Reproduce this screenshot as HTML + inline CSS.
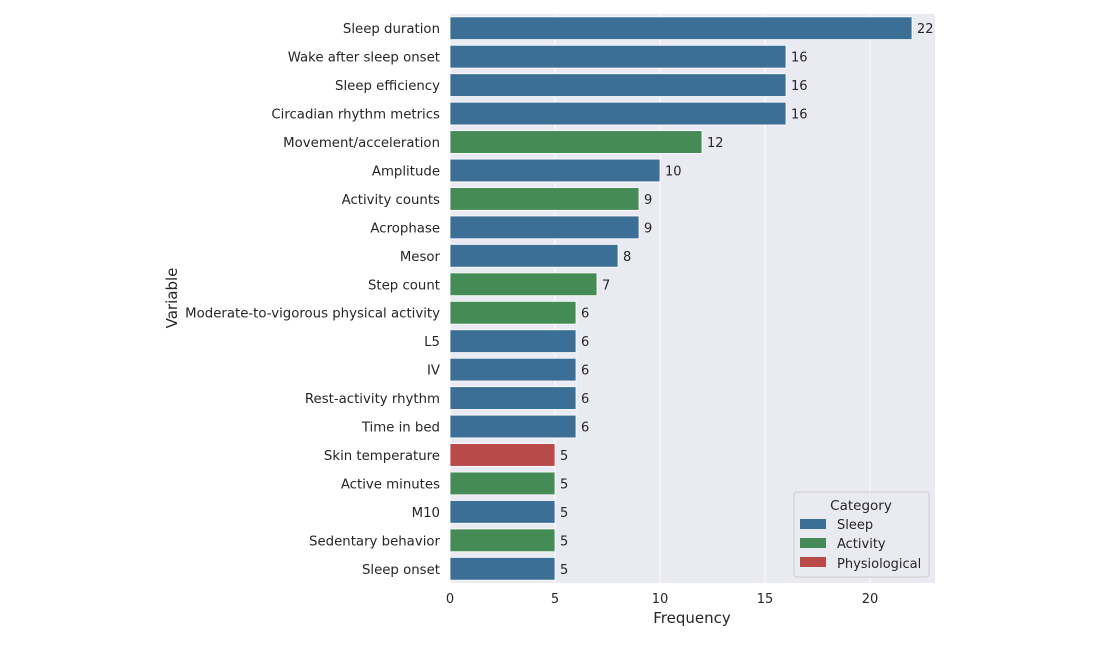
<!DOCTYPE html>
<html><head><meta charset="utf-8"><style>
body{margin:0;background:#fff;}
svg text{font-family:"DejaVu Sans","Liberation Sans",sans-serif;fill:#262626;}
</style></head><body>
<svg id="chart" width="1100" height="640" viewBox="0 0 1100 640" xmlns="http://www.w3.org/2000/svg">
<rect x="450" y="14" width="485" height="569" fill="#eaeaf2"/>
<g id="grid"></g><g id="bars"></g><g id="ylabels"></g><g id="xticks"></g>
<text x="692" y="623" font-size="15" text-anchor="middle">Frequency</text>
<text x="0" y="0" font-size="15" text-anchor="middle" transform="translate(177,298) rotate(-90)">Variable</text>
<g>
<rect x="794" y="492" width="135" height="85" rx="3" fill="#eaeaf2" stroke="#cccccc" fill-opacity="0.8"/>
<text x="861" y="510" font-size="13.5" text-anchor="middle">Category</text>
<rect x="800" y="519" width="26" height="10" fill="#3b6f95"/>
<text x="837" y="529" font-size="13">Sleep</text>
<rect x="800" y="538" width="26" height="10" fill="#458b55"/>
<text x="837" y="548" font-size="13">Activity</text>
<rect x="800" y="557" width="26" height="10" fill="#b84b4a"/>
<text x="837" y="568" font-size="13">Physiological</text>
</g>
</svg>
<script>
const categories=["Sleep duration","Wake after sleep onset","Sleep efficiency","Circadian rhythm metrics","Movement/acceleration","Amplitude","Activity counts","Acrophase","Mesor","Step count","Moderate-to-vigorous physical activity","L5","IV","Rest-activity rhythm","Time in bed","Skin temperature","Active minutes","M10","Sedentary behavior","Sleep onset"];
const values=[22,16,16,16,12,10,9,9,8,7,6,6,6,6,6,5,5,5,5,5];
const groups=["Sleep","Sleep","Sleep","Sleep","Activity","Sleep","Activity","Sleep","Sleep","Activity","Activity","Sleep","Sleep","Sleep","Sleep","Physiological","Activity","Sleep","Activity","Sleep"];
const xTicks=[0,5,10,15,20];
const colors={Sleep:"#3b6f95",Activity:"#458b55",Physiological:"#b84b4a"};
const NS="http://www.w3.org/2000/svg";
const x0=450,pxPer=21,plotTop=14,band=569/categories.length;
const xs=v=>x0+v*pxPer;
const yc=i=>plotTop+band*(i+0.5);
function mk(tag,attrs,parent){const e=document.createElementNS(NS,tag);for(const k in attrs)e.setAttribute(k,attrs[k]);document.getElementById(parent).appendChild(e);return e;}
xTicks.forEach(t=>{
  const l=mk("line",{x1:xs(t),x2:xs(t),y1:14,y2:583,stroke:"#fff","stroke-width":1},"grid");
  
  
  const tx=mk("text",{x:xs(t),y:603,"font-size":13,"text-anchor":"middle"},"xticks");
  tx.textContent=t;
  
  
});
categories.forEach((c,i)=>{
  const h=band*0.8;
  const r=mk("rect",{x:x0,y:yc(i)-h/2,width:xs(values[i])-x0,height:h,fill:colors[groups[i]],stroke:"#fff","stroke-width":0.8},"bars");
  
  
  const v=mk("text",{x:xs(values[i])+5,y:yc(i)+5,"font-size":13},"bars");
  v.textContent=values[i];
  
  
  const lb=mk("text",{x:440,y:yc(i)+5,"font-size":13.3,"text-anchor":"end"},"ylabels");
  lb.textContent=c;
  
  
});
</script>
</body></html>
